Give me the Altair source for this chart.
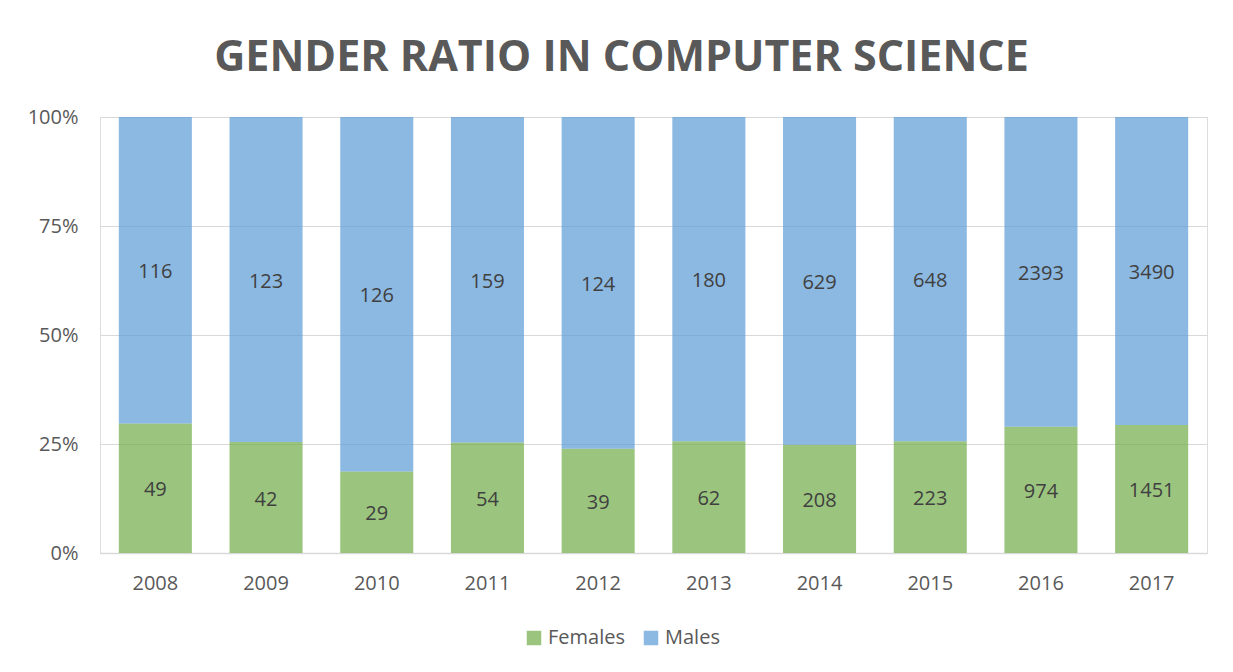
import altair as alt
import pandas as pd

years = ["2008", "2009", "2010", "2011", "2012", "2013", "2014", "2015", "2016", "2017"]
females = [49, 42, 29, 54, 39, 62, 208, 223, 974, 1451]
males = [116, 123, 126, 159, 124, 180, 629, 648, 2393, 3490]

rows = []
for y, f, m in zip(years, females, males):
    rows.append({"year": y, "gender": "Females", "count": f})
    rows.append({"year": y, "gender": "Males", "count": m})
df = pd.DataFrame(rows)

FONT = "Open Sans"
GRAY = "#595959"

base = alt.Chart(df).transform_stack(
    stack="count", as_=["s0", "s1"], groupby=["year"],
    sort=[alt.SortField("gender", order="ascending")], offset="normalize"
).transform_calculate(mid="(datum.s0 + datum.s1) / 2")

xenc = alt.X("year:N", title=None,
             scale=alt.Scale(paddingInner=0.34, paddingOuter=0.17),
             axis=alt.Axis(labelAngle=0, labelFontSize=20, labelColor=GRAY, labelFont=FONT,
                           domainColor="#D9D9D9", domainWidth=1.5, ticks=False, labelPadding=20))

bars = base.mark_bar(opacity=0.7).encode(
    x=xenc,
    y=alt.Y("s0:Q", title=None,
            scale=alt.Scale(domain=[0, 1]),
            axis=alt.Axis(format="%", values=[0, 0.25, 0.5, 0.75, 1], labelFontSize=20,
                          labelColor=GRAY, labelFont=FONT, domain=False, ticks=False,
                          gridColor="#D9D9D9", gridWidth=1.2, labelPadding=22)),
    y2="s1:Q",
    color=alt.Color("gender:N", title=None,
                    scale=alt.Scale(domain=["Females", "Males"], range=["#70AD47", "#5B9BD5"]),
                    legend=alt.Legend(orient="none", legendX=424, legendY=511,
                                      direction="horizontal", symbolType="square",
                                      symbolSize=210, symbolOpacity=0.7, labelFontSize=20,
                                      labelColor=GRAY, labelFont=FONT,
                                      columnPadding=16, symbolStrokeWidth=0)),
)

labels = base.mark_text(fontSize=20, font=FONT, color="#404040", dy=2).encode(
    x="year:N",
    y="mid:Q",
    text="count:Q",
)

chart = alt.layer(bars, labels).properties(
    width=1107, height=436,
    autosize=alt.AutoSizeParams(type="none"),
    padding={"left": 92, "top": 109, "right": 18, "bottom": 111},
    title=alt.TitleParams("GENDER RATIO IN COMPUTER SCIENCE", font=FONT, fontSize=43,
                          fontWeight="bold", color=GRAY, offset=27, dx=-32, anchor="middle"),
).configure_view(stroke=None).configure(background="white")

chart.save("out.html", embed_options={"renderer": "svg", "actions": False})
